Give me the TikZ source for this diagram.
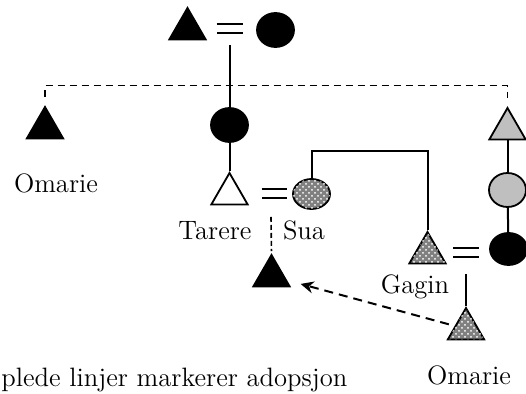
\documentclass[tikz,border=0pt]{standalone}
\usepackage{tikz}
\usetikzlibrary{shapes.geometric,patterns,arrows.meta}

\begin{document}
\begin{tikzpicture}[x=0.5pt,y=-0.5pt,
	male/.style={regular polygon, regular polygon sides=3, draw, line width=0.9pt, minimum size=21pt, inner sep=0pt},
	female/.style={ellipse, draw, line width=0.9pt, minimum width=18.5pt, minimum height=17pt, inner sep=0pt},
	solidfill/.style={fill=black},
	greyfill/.style={fill=black!25},
	dotfill/.style={fill=black!50, postaction={pattern=crosshatch dots, pattern color=white}},
	marr/.style={double, double distance=3.5pt, line width=1pt},
	line/.style={line width=1pt},
	sib/.style={line width=0.8pt, dash pattern=on 3.5pt off 2.5pt},
	adopt/.style={line width=1pt, dash pattern=on 4.5pt off 3pt, -{Stealth[length=6.5pt,width=6pt]}},
	lbl/.style={anchor=base, inner sep=0pt, font=\fontsize{13.3}{16}\selectfont}]
	\useasboundingbox (0,0) rectangle (526,394);
	\node[male, solidfill] (grandpa) at (187.5,29) {};
	\node[female, solidfill] (grandma) at (275.5,30) {};
	\node[male, solidfill] (omL) at (45,128) {};
	\node[female, solidfill] (mother) at (229.5,125) {};
	\node[male] (tarere) at (229.5,194) {};
	\node[female, dotfill, minimum height=15pt] (sua) at (311.5,194) {};
	\node[male, solidfill] (kid) at (271.5,276) {};
	\node[male, greyfill] (uncle) at (507.5,129) {};
	\node[female, greyfill] (aunt) at (507.5,190) {};
	\node[female, solidfill, minimum height=16pt] (wife) at (508.5,249) {};
	\node[male, dotfill] (gagin) at (427.5,253) {};
	\node[male, dotfill] (omC) at (466,329) {};
	\node[lbl] (omLname) at (56,193) {Omarie};
	\node[lbl] (tarname) at (215,240) {Tarere};
	\node[lbl] (suaname) at (304,240) {Sua};
	\node[lbl] (gagname) at (415,294) {Gagin};
	\node[lbl] (omCname) at (469,385) {Omarie};
	\node[lbl, anchor=base west] (note) at (1,387) {plede linjer markerer adopsjon};
	\coordinate (eq1) at (229.5,45);
	\coordinate (eq2) at (271,217);
	\coordinate (eq3) at (466,274);
	\draw[marr, shorten <=8pt, shorten >=6.5pt] (grandpa.east) -- (grandpa.east -| grandma.west);
	\draw[line] (eq1) -- (mother);
	\draw[sib, shorten <=4pt, shorten >=4pt] (omL.north) -- ++(0,-19.5) -| (uncle.north);
	\draw[line] (mother) -- (tarere.north);
	\draw[marr, shorten <=9.5pt, shorten >=2.5pt] (tarere.east) -- (tarere.east -| sua.west);
	\draw[sib, dash pattern=on 2.5pt off 1.5pt, shorten >=1pt] (eq2) -- (kid.north);
	\draw[line] (sua.north) -- ++(0,-27) -| (gagin.north);
	\draw[line] (uncle) -- (aunt);
	\draw[line] (aunt) -- (wife);
	\draw[marr, shorten <=6.3pt, shorten >=5pt] (gagin.east) -- (gagin.east -| wife.west);
	\draw[line] (eq3) -- (omC.north);
	\draw[adopt, shorten <=3pt, shorten >=7pt] (omC) -- (kid);
\end{tikzpicture}
\end{document}
